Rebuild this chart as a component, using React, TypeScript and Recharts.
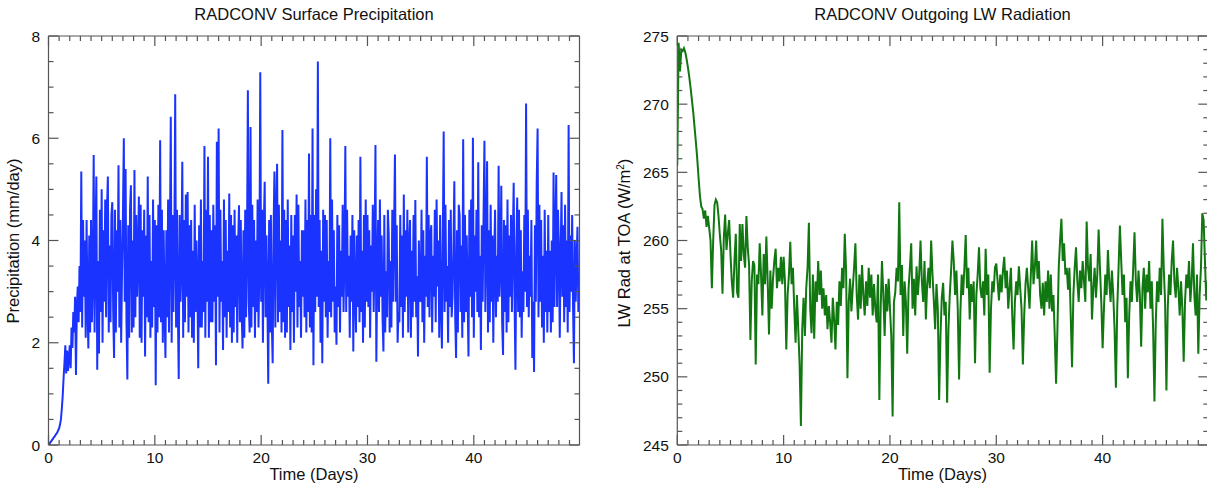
import { Line, LineChart, XAxis, YAxis } from "recharts";

// sampling intervals, in days
const PRECIP_STEP = 1 / 12;
const LW_STEP = 0.125;

// surface precipitation (mm/day), 12 samples per day, one row per day
const precipitation = [
  0, 0.02, 0.05, 0.07, 0.1, 0.12, 0.15, 0.17, 0.2, 0.22, 0.25, 0.29,
  0.33, 0.4, 0.5, 0.7, 0.95, 1.3, 1.6, 1.95, 1.4, 1.85, 1.45, 1.7,
  1.95, 1.5, 2.3, 1.9, 2.6, 2.2, 2.9, 1.37, 2.7, 3.1, 2.4, 3.5,
  2.6, 5.35, 2.3, 4.4, 2.9, 4.0, 2.1, 4.4, 2.7, 1.89, 4.1, 2.2,
  4.4, 2.4, 3.3, 5.67, 2.2, 4.0, 5.25, 1.47, 3.6, 1.79, 4.6, 2.6,
  5.0, 2.0, 4.2, 2.8, 4.8, 2.5, 4.6, 5.25, 2.2, 3.9, 2.4, 4.5,
  4.75, 2.6, 1.7, 4.6, 2.2, 4.2, 3.0, 5.47, 2.3, 4.4, 2.0, 3.4,
  4.5, 6.0, 2.8, 5.4, 2.4, 1.28, 4.3, 2.1, 4.6, 5.08, 2.2, 4.0,
  2.3, 5.38, 2.5, 4.5, 2.9, 3.7, 4.86, 2.1, 4.7, 2.0, 4.2, 2.9,
  4.6, 1.73, 4.1, 2.5, 5.25, 2.4, 4.5, 2.1, 3.6, 2.3, 4.8, 2.7,
  4.4, 1.17, 4.3, 2.2, 4.7, 2.5, 5.96, 2.4, 4.6, 2.0, 4.2, 2.6,
  1.7, 4.2, 2.5, 4.8, 2.2, 4.0, 6.42, 2.0, 4.5, 2.6, 3.9, 6.86,
  2.3, 4.6, 2.6, 1.29, 4.5, 2.8, 3.6, 5.54, 2.1, 4.4, 2.4, 4.9,
  2.9, 4.95, 2.2, 4.3, 2.5, 4.4, 2.1, 3.8, 2.0, 4.7, 2.6, 4.0,
  3.2, 1.5, 4.3, 2.3, 4.8, 2.3, 3.6, 2.6, 5.85, 2.1, 4.6, 2.8,
  5.64, 2.1, 4.5, 2.4, 4.2, 2.4, 4.7, 2.8, 4.3, 1.56, 5.93, 2.9,
  6.19, 2.2, 4.6, 2.8, 3.6, 1.86, 4.8, 2.5, 4.4, 2.1, 3.8, 2.6,
  4.92, 2.3, 4.5, 2.0, 4.3, 2.2, 4.6, 2.7, 4.1, 2.0, 3.9, 4.69,
  2.4, 4.4, 2.6, 1.89, 4.2, 2.1, 4.6, 2.5, 3.8, 6.94, 2.8, 2.2,
  6.22, 2.3, 4.7, 2.7, 4.4, 2.1, 4.0, 2.6, 4.8, 2.3, 3.5, 7.29,
  2.8, 4.6, 2.0, 4.3, 5.15, 2.5, 4.1, 2.9, 1.2, 4.4, 2.2, 4.5,
  2.4, 1.6, 4.2, 5.35, 2.3, 4.5, 5.5, 2.4, 4.7, 2.6, 4.0, 2.2,
  6.16, 2.4, 4.6, 2.1, 4.4, 2.2, 4.8, 2.7, 3.9, 1.86, 4.5, 2.6,
  4.1, 2.0, 4.5, 3.0, 4.9, 2.3, 4.7, 2.7, 3.6, 2.1, 4.2, 2.9,
  4.2, 2.5, 4.8, 2.2, 4.4, 2.6, 5.7, 2.3, 4.5, 2.2, 6.19, 1.56,
  4.5, 2.6, 5.0, 2.9, 7.5, 2.7, 4.4, 2.0, 3.8, 1.6, 4.6, 2.8,
  4.5, 2.5, 4.4, 2.1, 3.6, 2.6, 6.0, 2.5, 4.8, 2.8, 4.2, 2.2,
  3.1, 1.96, 4.5, 2.7, 4.3, 2.2, 3.8, 2.9, 4.7, 2.6, 3.7, 5.85,
  2.6, 4.6, 2.9, 3.7, 2.1, 4.1, 2.8, 4.5, 1.83, 4.2, 3.0, 2.2,
  4.1, 2.7, 4.4, 2.4, 5.64, 2.6, 3.8, 2.0, 4.5, 2.3, 4.8, 2.8,
  4.5, 2.7, 4.2, 2.1, 3.9, 3.0, 4.7, 2.6, 3.8, 5.87, 1.63, 3.4,
  4.4, 2.6, 4.8, 2.9, 4.1, 2.5, 1.83, 4.5, 2.2, 3.4, 2.5, 4.6,
  4.1, 2.2, 3.6, 2.3, 4.6, 2.8, 4.2, 5.68, 2.8, 4.3, 2.0, 2.6,
  2.4, 4.5, 2.7, 4.1, 2.1, 4.9, 2.6, 4.2, 2.9, 4.6, 2.2, 3.9,
  4.4, 2.1, 3.8, 2.5, 4.5, 2.8, 4.79, 2.5, 3.3, 1.73, 4.0, 2.9,
  2.8, 4.6, 2.4, 4.2, 2.0, 3.7, 2.9, 5.64, 2.7, 4.5, 2.5, 4.1,
  4.3, 2.2, 3.7, 2.9, 4.6, 2.4, 4.8, 3.1, 4.0, 2.1, 4.5, 2.8,
  1.89, 4.0, 6.13, 2.6, 4.7, 2.8, 3.5, 2.0, 4.4, 2.7, 4.6, 2.5,
  2.9, 3.8, 5.16, 2.5, 1.7, 4.2, 2.2, 4.7, 4.5, 2.6, 3.9, 2.1,
  5.98, 2.4, 4.5, 2.6, 4.1, 2.9, 1.73, 4.6, 2.9, 4.8, 2.5, 6.01,
  2.1, 4.1, 3.0, 4.6, 2.6, 5.53, 2.5, 3.7, 1.86, 4.3, 2.8, 4.5,
  5.95, 2.6, 3.9, 5.55, 2.2, 4.2, 2.4, 4.7, 2.8, 4.1, 2.0, 3.7,
  4.6, 2.5, 3.7, 2.8, 5.46, 2.9, 3.5, 5.07, 2.4, 1.76, 4.4, 2.6,
  4.3, 2.2, 4.8, 2.4, 4.1, 2.9, 4.5, 2.6, 4.0, 5.13, 2.8, 1.47,
  3.9, 4.84, 2.6, 4.6, 2.5, 4.2, 2.1, 3.4, 2.6, 4.5, 3.0, 6.68,
  2.7, 4.6, 2.5, 3.7, 2.9, 4.4, 1.7, 2.8, 1.43, 4.3, 2.8, 5.14,
  6.19, 2.5, 4.7, 2.8, 4.4, 2.3, 3.7, 2.0, 4.6, 2.6, 3.8, 2.2,
  4.5, 2.6, 3.8, 2.2, 4.0, 2.4, 5.33, 2.7, 4.1, 5.28, 2.7, 4.6,
  3.9, 2.1, 3.7, 4.95, 2.9, 4.3, 2.4, 4.7, 2.7, 4.0, 2.2, 6.26,
  2.6, 4.1, 3.0, 4.5, 2.7, 1.6, 4.0, 2.8, 3.6, 4.27, 2.6, 3.0,
];

// outgoing LW radiation at TOA (W/m2), 8 samples per day
const lwRadiation = [
  265.5, 274.5, 272.4, 274.0, 273.9, 274.1, 273.8, 273.3,
  272.7, 272.0, 271.2, 270.3, 269.4, 268.3, 267.2, 266.0,
  264.6, 263.3, 262.5, 262.3, 261.6, 262.2, 261.0, 261.8,
  260.9, 260.0, 256.5, 260.0, 262.6, 263.0, 262.8, 261.8,
  260.4, 259.3, 256.1, 260.2, 261.9, 259.3, 260.5, 261.5,
  259.0, 257.0, 255.8, 258.5, 260.5, 256.2, 255.8, 261.2,
  258.5, 261.2, 259.0, 258.0, 261.8, 259.5, 258.2, 252.7,
  257.0, 258.5, 258.2, 250.9, 257.5, 256.8, 259.8, 257.5,
  254.5, 259.0, 256.8, 260.3, 257.0, 253.1, 257.8, 255.0,
  257.2, 258.5, 259.4, 256.5, 258.0, 257.0, 258.8, 256.8,
  258.8, 257.0, 252.0, 256.0, 257.5, 259.9, 256.8, 258.0,
  255.0, 252.5, 256.0, 253.5, 251.0, 246.4, 253.5, 255.8,
  253.0, 256.5, 258.0, 261.3, 255.0, 253.2, 257.5, 252.8,
  257.0, 255.5, 258.5, 256.0, 257.8, 255.0, 256.5, 254.5,
  256.0, 253.5, 255.2, 254.0, 252.5, 255.8, 254.2, 252.0,
  255.5, 253.8, 257.0, 255.2, 258.0, 256.5, 260.5, 257.8,
  249.9, 255.5, 257.2, 254.8, 256.5, 258.0, 259.8, 256.0,
  254.2, 257.5, 255.0, 258.2, 256.0, 254.5, 257.0, 255.2,
  258.0, 255.8, 257.5, 254.5, 256.8, 255.0, 254.0, 257.5,
  248.3, 255.0, 258.5, 256.0, 253.0, 256.8, 254.8, 257.2,
  255.0, 253.0, 247.1, 255.5, 256.2, 258.0, 257.0, 262.8,
  256.0, 258.2, 253.0, 257.0, 255.5, 251.7, 256.5, 258.0,
  259.8, 255.0, 257.2, 254.5, 258.1, 256.0, 257.5, 260.0,
  257.0, 255.5, 258.5, 254.2, 256.8, 258.0, 256.5, 260.0,
  257.5, 255.6, 253.5, 256.8, 255.0, 248.3, 253.0, 255.8,
  256.9, 254.5, 255.5, 248.1, 253.5, 256.0, 257.8, 260.0,
  258.5, 256.0, 257.8, 255.0, 249.8, 254.8, 257.5, 256.0,
  258.0, 260.4, 256.5, 258.0, 254.2, 256.8, 255.5, 257.0,
  251.0, 256.0, 257.5, 259.5, 256.5, 255.8, 257.0, 254.5,
  259.4, 256.0, 257.5, 250.3, 255.0, 257.0, 256.2, 258.0,
  258.3, 257.0, 255.6, 257.5, 256.2, 257.8, 258.8, 256.5,
  257.8, 255.0, 256.5, 258.0, 254.5, 252.0, 255.5, 257.0,
  256.0, 258.1, 256.5, 255.0, 250.9, 254.5, 256.8, 258.0,
  256.5, 255.0, 257.5, 260.0, 256.8, 258.0, 260.0, 257.2,
  258.5, 256.0, 255.0, 256.9, 254.5, 257.0, 255.5, 257.8,
  255.0, 257.5, 254.8, 256.0, 253.0, 249.5, 253.5, 258.0,
  260.0, 261.6, 258.5, 259.8, 257.5, 258.0, 256.4, 258.0,
  254.5, 250.7, 256.0, 258.0, 259.5, 257.0, 255.5, 257.8,
  256.5, 258.5, 257.0, 255.5, 261.4, 258.0, 257.0, 259.0,
  254.2, 256.5, 258.0, 255.8, 257.5, 260.8, 258.0, 255.5,
  252.1, 255.0, 257.5, 256.0, 259.3, 257.0, 255.5, 257.8,
  256.0, 253.5, 249.2, 255.0, 258.0, 261.1, 258.5, 256.0,
  257.5, 254.0, 255.8, 249.9, 254.5, 257.0, 255.5, 258.0,
  260.6, 257.0, 255.5, 257.8, 256.0, 252.2, 256.5, 258.0,
  255.0, 257.5, 256.2, 258.5, 255.0, 257.0, 253.5, 248.2,
  254.0, 257.0, 255.5, 258.0, 256.0, 261.6, 258.0, 255.5,
  249.0, 255.0, 257.5, 256.0, 258.5, 260.0, 257.0, 255.8,
  258.0, 256.5, 254.5, 257.0, 255.0, 251.1, 255.5, 257.5,
  256.5, 258.5, 255.5, 257.0, 259.8, 256.0, 254.5, 257.5,
  251.7, 256.0, 258.0, 262.0, 261.5, 258.5, 255.6, 257.0,
];

const dayTicks = [
  0, 1, 2, 3, 4, 5, 6, 7, 8, 9, 10, 11, 12, 13, 14, 15, 16, 17, 18, 19, 20, 21, 22, 23, 24,
  25, 26, 27, 28, 29, 30, 31, 32, 33, 34, 35, 36, 37, 38, 39, 40, 41, 42, 43, 44, 45, 46, 47, 48, 49,
];
const precipTicks = [0, 0.5, 1, 1.5, 2, 2.5, 3, 3.5, 4, 4.5, 5, 5.5, 6, 6.5, 7, 7.5, 8];
const lwTicks = [
  245, 246, 247, 248, 249, 250, 251, 252, 253, 254, 255, 256, 257, 258, 259, 260,
  261, 262, 263, 264, 265, 266, 267, 268, 269, 270, 271, 272, 273, 274, 275,
];

const X_DOMAIN: [number, number] = [0, 49.94];
const PLOT_TOP = 36;
const PLOT_BOTTOM = 445;
const PLOT_WIDTH = 531;
const AXIS_COLOR = "#555";
const TEXT_COLOR = "#111";
const FONT = '"Liberation Sans", Arial, Helvetica, sans-serif';

const toSeries = (values: number[], step: number) => values.map((v, i) => ({ t: i * step, v }));

type TickProps = { x?: number; y?: number; payload?: { value: number } };

function XTick({ x = 0, payload, side }: TickProps & { side: "top" | "bottom" }) {
  const value = payload?.value ?? 0;
  const major = value % 10 === 0;
  const len = major ? 10 : 5;
  const y = side === "bottom" ? PLOT_BOTTOM : PLOT_TOP;
  const dir = side === "bottom" ? -1 : 1;
  return (
    <g>
      <line x1={x} x2={x} y1={y} y2={y + dir * len} stroke={AXIS_COLOR} strokeWidth={1.2} />
      {side === "bottom" && major ? (
        <text x={x} y={y + 18.3} textAnchor="middle" fontSize={15.5} fontFamily={FONT} fill={TEXT_COLOR}>
          {value}
        </text>
      ) : null}
    </g>
  );
}

function YTick({
  y = 0,
  payload,
  side,
  edgeX,
  majorEvery,
}: TickProps & { side: "left" | "right"; edgeX: number; majorEvery: number }) {
  const value = payload?.value ?? 0;
  const major = value % majorEvery === 0;
  const len = major ? 10 : 5;
  const dir = side === "left" ? 1 : -1;
  return (
    <g>
      <line x1={edgeX} x2={edgeX + dir * len} y1={y} y2={y} stroke={AXIS_COLOR} strokeWidth={1.2} />
      {side === "left" && major ? (
        <text x={edgeX - 8.5} y={y + 5.5} textAnchor="end" fontSize={15.5} fontFamily={FONT} fill={TEXT_COLOR}>
          {value}
        </text>
      ) : null}
    </g>
  );
}

type PanelProps = {
  left: number;
  width: number;
  axisWidth: number;
  values: number[];
  step: number;
  color: string;
  yDomain: [number, number];
  yTicks: number[];
  majorEvery: number;
};

function Panel({ left, width, axisWidth, values, step, color, yDomain, yTicks, majorEvery }: PanelProps) {
  const rightEdge = axisWidth + PLOT_WIDTH;
  const axisLine = { stroke: AXIS_COLOR, strokeWidth: 1.2 };
  return (
    <div style={{ position: "absolute", left, top: 0 }}>
      <LineChart
        width={width}
        height={486}
        data={toSeries(values, step)}
        margin={{ top: PLOT_TOP - 1, right: width - rightEdge - 1, bottom: 0, left: 0 }}
      >
        <XAxis
          dataKey="t"
          type="number"
          domain={X_DOMAIN}
          allowDataOverflow
          ticks={dayTicks}
          interval={0}
          height={486 - PLOT_BOTTOM}
          tickSize={0}
          tickMargin={0}
          tickLine={false}
          axisLine={axisLine}
          tick={(p: TickProps) => <XTick {...p} side="bottom" />}
        />
        <XAxis
          xAxisId="top"
          orientation="top"
          dataKey="t"
          type="number"
          domain={X_DOMAIN}
          allowDataOverflow
          ticks={dayTicks}
          interval={0}
          height={1}
          tickSize={0}
          tickMargin={0}
          tickLine={false}
          axisLine={axisLine}
          tick={(p: TickProps) => <XTick {...p} side="top" />}
        />
        <YAxis
          type="number"
          domain={yDomain}
          allowDataOverflow
          ticks={yTicks}
          interval={0}
          width={axisWidth}
          tickSize={0}
          tickMargin={0}
          tickLine={false}
          axisLine={axisLine}
          tick={(p: TickProps) => (
            <YTick {...p} side="left" edgeX={axisWidth} majorEvery={majorEvery} />
          )}
        />
        <YAxis
          yAxisId="right"
          orientation="right"
          type="number"
          domain={yDomain}
          allowDataOverflow
          ticks={yTicks}
          interval={0}
          width={1}
          tickSize={0}
          tickMargin={0}
          tickLine={false}
          axisLine={axisLine}
          tick={(p: TickProps) => (
            <YTick {...p} side="right" edgeX={rightEdge} majorEvery={majorEvery} />
          )}
        />
        {/* invisible copy so the top and right frame axes get a series */}
        <Line
          xAxisId="top"
          yAxisId="right"
          type="linear"
          dataKey="v"
          stroke="none"
          dot={false}
          activeDot={false}
          isAnimationActive={false}
        />
        <Line
          type="linear"
          dataKey="v"
          stroke={color}
          strokeWidth={2}
          dot={false}
          activeDot={false}
          isAnimationActive={false}
        />
      </LineChart>
    </div>
  );
}

export default function App() {
  const labelStyle = { fontFamily: FONT, fontSize: 16.5, fill: TEXT_COLOR };
  return (
    <div
      style={{
        position: "absolute",
        left: 0,
        top: 0,
        width: 1207,
        height: 486,
        overflow: "hidden",
        background: "#fff",
      }}
    >
      <Panel
        left={0}
        width={600}
        axisWidth={48.5}
        values={precipitation}
        step={PRECIP_STEP}
        color="#1a33ff"
        yDomain={[0, 8]}
        yTicks={precipTicks}
        majorEvery={2}
      />
      <Panel
        left={600}
        width={620}
        axisWidth={77.3}
        values={lwRadiation}
        step={LW_STEP}
        color="#117711"
        yDomain={[245, 275]}
        yTicks={lwTicks}
        majorEvery={5}
      />
      <svg
        width={1207}
        height={486}
        style={{ position: "absolute", left: 0, top: 0, pointerEvents: "none" }}
      >
        <text x={314} y={19.5} textAnchor="middle" {...labelStyle}>
          RADCONV Surface Precipitation
        </text>
        <text x={942.5} y={19.5} textAnchor="middle" {...labelStyle}>
          RADCONV Outgoing LW Radiation
        </text>
        <text x={314} y={480} textAnchor="middle" {...labelStyle}>
          Time (Days)
        </text>
        <text x={942.5} y={480} textAnchor="middle" {...labelStyle}>
          Time (Days)
        </text>
        <text transform="translate(19,241) rotate(-90)" textAnchor="middle" {...labelStyle}>
          Precipitation (mm/day)
        </text>
        <text transform="translate(630,243) rotate(-90)" textAnchor="middle" {...labelStyle}>
          LW Rad at TOA (W/m
          <tspan dy={-6} fontSize={10}>
            2
          </tspan>
          <tspan dy={6}>)</tspan>
        </text>
      </svg>
    </div>
  );
}
